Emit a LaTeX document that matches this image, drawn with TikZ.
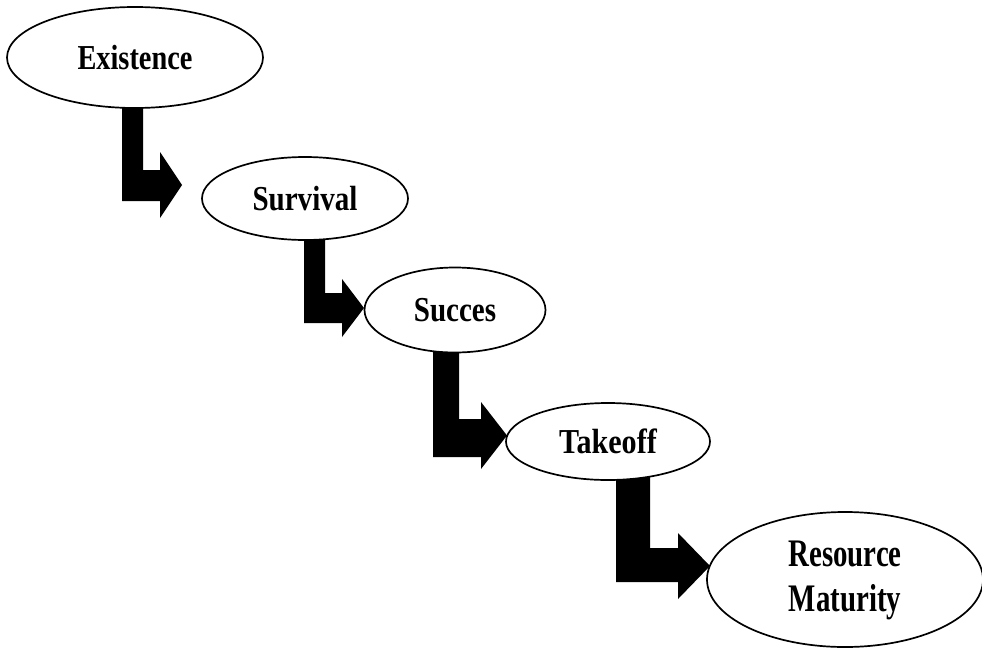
\documentclass[tikz,border=0pt]{standalone}
\usepackage{fontspec}
\setmainfont{Liberation Serif}
\usetikzlibrary{shapes.geometric,backgrounds}
\tikzset{
  stage/.style={ellipse, draw=black, line width=1.7pt, fill=white, inner sep=0pt,
    font=\fontsize{35}{40}\selectfont\bfseries},
}
% #1 from node, #2 bar left x, #3 bar right x, #4 bar top y, #5 bar bottom y,
% #6 head base x, #7 head top y, #8 head bottom y, #9 tip x
\newcommand\lstep[9]{%
  \fill[black] (#2,0 |- #1.center) -- (#3,0 |- #1.center) -- (#3,#4) -- (#6,#4) -- (#6,#7)
    -- (#9,{(#7+#8)/2}) -- (#6,#8) -- (#6,#5) -- (#2,#5) -- cycle;}
\begin{document}
\begin{tikzpicture}[x=1pt,y=-1pt]
\useasboundingbox (0,0) rectangle (982,648);
\node[stage, minimum width=256pt, minimum height=101pt] (e1) at (135,57.5) {\scalebox{0.81}[1]{Existence}};
\node[stage, minimum width=206pt, minimum height=83pt] (e2) at (305,198.5) {\scalebox{0.83}[1]{Survival}};
\node[stage, minimum width=181pt, minimum height=85pt] (e3) at (455,310) {\scalebox{0.83}[1]{Succes}};
\node[stage, minimum width=204pt, minimum height=77pt] (e4) at (608,441.5) {\scalebox{0.86}[1]{Takeoff}};
\node[stage, minimum width=276pt, minimum height=135pt, font=\fontsize{39}{45}\selectfont\bfseries] (e5) at (845,579.5)
  {\scalebox{0.74}[1]{\begin{tabular}{@{}c@{}}Resource\\Maturity\end{tabular}}};
\begin{pgfonlayer}{background}
\lstep{e1}{122}{143}{170}{201}{160}{152}{218}{182}
\lstep{e2}{304}{325}{293}{323}{342}{279}{337}{364}
\lstep{e3}{433}{459}{419}{457}{481}{402}{469}{507}
\lstep{e4}{616}{650}{548}{582}{678}{533}{599}{710}
\end{pgfonlayer}
\end{tikzpicture}
\end{document}
